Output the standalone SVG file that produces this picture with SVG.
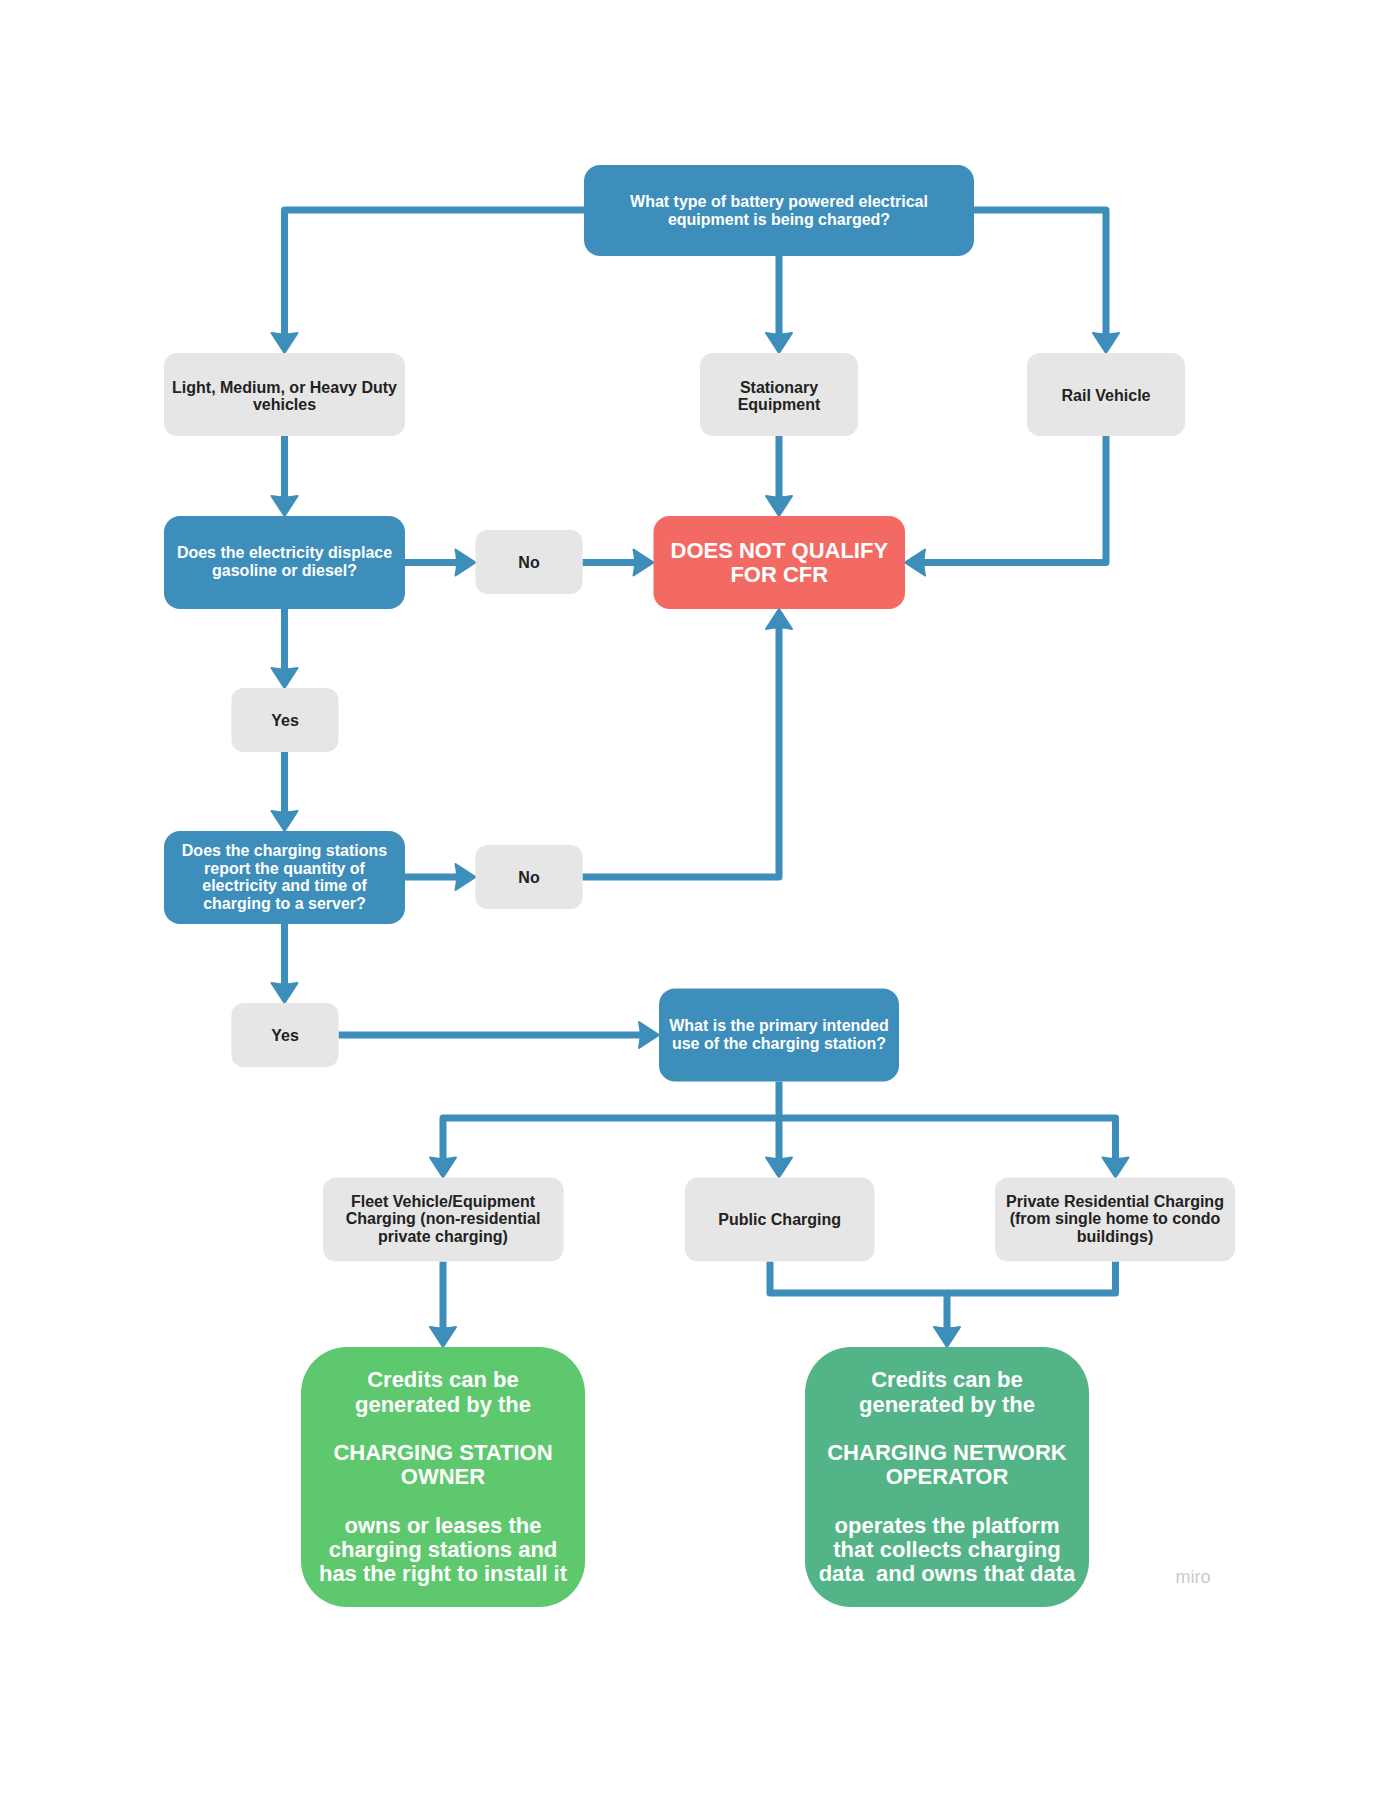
<svg xmlns="http://www.w3.org/2000/svg" width="1400" height="1811" viewBox="0 0 1400 1811">
<style>
.blue{fill:#3d8ebb}
.grey{fill:#e6e6e6}
.red{fill:#f26a63}
.g1{fill:#5ec86e}
.g2{fill:#53b487}
text{font-family:"Liberation Sans",Arial,sans-serif;font-weight:bold;text-anchor:middle}
.w{fill:#ffffff;font-size:16px}
.d{fill:#222222;font-size:16px}
.big{fill:#ffffff;font-size:22px}
.conn{fill:none;stroke:#3d8ebb;stroke-width:7;stroke-linejoin:round;marker-end:url(#ah)}
.conn2{fill:none;stroke:#3d8ebb;stroke-width:7;stroke-linejoin:round}
</style>
<defs>
<marker id="ah" markerUnits="userSpaceOnUse" viewBox="-12 -16 28 32" refX="0" refY="0" markerWidth="28" markerHeight="32" orient="auto" overflow="visible">
<path d="M12,0 L-8,-13 Q-5,0 -8,13 Z" fill="#3d8ebb" stroke="#3d8ebb" stroke-width="2" stroke-linejoin="round"/>
</marker>
</defs>
<rect width="1400" height="1811" fill="#ffffff"/>
<g id="connectors">
<path class="conn" d="M584,210 H284.5 V341"/>
<path class="conn" d="M779,256 V341"/>
<path class="conn" d="M974,210 H1106 V341"/>
<path class="conn" d="M284.5,436 V504"/>
<path class="conn" d="M779,436 V504"/>
<path class="conn" d="M1106,436 V562.5 H917"/>
<path class="conn" d="M405,562.5 H463.5"/>
<path class="conn" d="M582.5,562.5 H641.5"/>
<path class="conn" d="M284.5,609 V676"/>
<path class="conn" d="M284.5,752 V819"/>
<path class="conn" d="M405,877 H463.5"/>
<path class="conn" d="M582.5,877 H779 V621"/>
<path class="conn" d="M284.5,924 V991"/>
<path class="conn" d="M338.5,1035 H647"/>
<path class="conn" d="M779,1081.5 V1165.5"/>
<path class="conn" d="M779,1118 H443 V1165.5"/>
<path class="conn" d="M779,1118 H1115.5 V1165.5"/>
<path class="conn" d="M443,1261.5 V1335"/>
<path class="conn2" d="M1115.5,1261.5 V1293 H947"/>
<path class="conn" d="M770,1261.5 V1293 H947 V1335"/>
</g>
<g id="node-top">
<rect class="blue" x="584" y="165" width="390" height="91" rx="16"/>
<text class="w" x="779" y="207">What type of battery powered electrical</text>
<text class="w" x="779" y="225">equipment is being charged?</text>
</g>
<g id="node-light">
<rect class="grey" x="164" y="353" width="241" height="83" rx="13"/>
<text class="d" x="284.5" y="392.5">Light, Medium, or Heavy Duty</text>
<text class="d" x="284.5" y="410">vehicles</text>
</g>
<g id="node-stationary">
<rect class="grey" x="700" y="353" width="158" height="83" rx="13"/>
<text class="d" x="779" y="392.5">Stationary</text>
<text class="d" x="779" y="410">Equipment</text>
</g>
<g id="node-rail">
<rect class="grey" x="1027" y="353" width="158" height="83" rx="13"/>
<text class="d" x="1106" y="400.5">Rail Vehicle</text>
</g>
<g id="node-displace">
<rect class="blue" x="164" y="516" width="241" height="93" rx="16"/>
<text class="w" x="284.5" y="558.3">Does the electricity displace</text>
<text class="w" x="284.5" y="576">gasoline or diesel?</text>
</g>
<g id="node-no1">
<rect class="grey" x="475.5" y="530" width="107" height="64" rx="12"/>
<text class="d" x="529" y="568">No</text>
</g>
<g id="node-dnq">
<rect class="red" x="653.5" y="516" width="251.5" height="93" rx="16"/>
<text class="big" x="779.3" y="557.7">DOES NOT QUALIFY</text>
<text class="big" x="779.3" y="581.7">FOR CFR</text>
</g>
<g id="node-yes1">
<rect class="grey" x="231.5" y="688" width="107" height="64" rx="12"/>
<text class="d" x="285" y="725.7">Yes</text>
</g>
<g id="node-report">
<rect class="blue" x="164" y="831" width="241" height="93" rx="16"/>
<text class="w" x="284.5" y="856">Does the charging stations</text>
<text class="w" x="284.5" y="873.7">report the quantity of</text>
<text class="w" x="284.5" y="891.3">electricity and time of</text>
<text class="w" x="284.5" y="909">charging to a server?</text>
</g>
<g id="node-no2">
<rect class="grey" x="475.5" y="845" width="107" height="64" rx="12"/>
<text class="d" x="529" y="882.7">No</text>
</g>
<g id="node-yes2">
<rect class="grey" x="231.5" y="1003" width="107" height="64" rx="12"/>
<text class="d" x="285" y="1040.7">Yes</text>
</g>
<g id="node-primary">
<rect class="blue" x="659" y="988.5" width="240" height="93" rx="16"/>
<text class="w" x="779" y="1030.7">What is the primary intended</text>
<text class="w" x="779" y="1049.3">use of the charging station?</text>
</g>
<g id="node-fleet">
<rect class="grey" x="323" y="1177.5" width="240.5" height="84" rx="13"/>
<text class="d" x="443" y="1206.7">Fleet Vehicle/Equipment</text>
<text class="d" x="443" y="1224.3">Charging (non-residential</text>
<text class="d" x="443" y="1242.3">private charging)</text>
</g>
<g id="node-public">
<rect class="grey" x="685" y="1177.5" width="189.5" height="84" rx="13"/>
<text class="d" x="779.7" y="1225">Public Charging</text>
</g>
<g id="node-private">
<rect class="grey" x="995" y="1177.5" width="240" height="84" rx="13"/>
<text class="d" x="1115" y="1206.7">Private Residential Charging</text>
<text class="d" x="1115" y="1224.3">(from single home to condo</text>
<text class="d" x="1115" y="1242.3">buildings)</text>
</g>
<g id="node-owner">
<rect class="g1" x="301" y="1347" width="284" height="260" rx="46"/>
<text class="big" x="443" y="1387.3">Credits can be</text>
<text class="big" x="443" y="1411.5">generated by the</text>
<text class="big" x="443" y="1460">CHARGING STATION</text>
<text class="big" x="443" y="1484.1">OWNER</text>
<text class="big" x="443" y="1532.5">owns or leases the</text>
<text class="big" x="443" y="1556.7">charging stations and</text>
<text class="big" x="443" y="1580.9">has the right to install it</text>
</g>
<g id="node-operator">
<rect class="g2" x="805" y="1347" width="284" height="260" rx="46"/>
<text class="big" x="947" y="1387.3">Credits can be</text>
<text class="big" x="947" y="1411.5">generated by the</text>
<text class="big" x="947" y="1460">CHARGING NETWORK</text>
<text class="big" x="947" y="1484.1">OPERATOR</text>
<text class="big" x="947" y="1532.5">operates the platform</text>
<text class="big" x="947" y="1556.7">that collects charging</text>
<text class="big" x="947" y="1580.9" xml:space="preserve">data  and owns that data</text>
</g>
<text x="1193" y="1583" style="font-weight:normal;font-size:18px;fill:#c9c9c9">miro</text>
</svg>
